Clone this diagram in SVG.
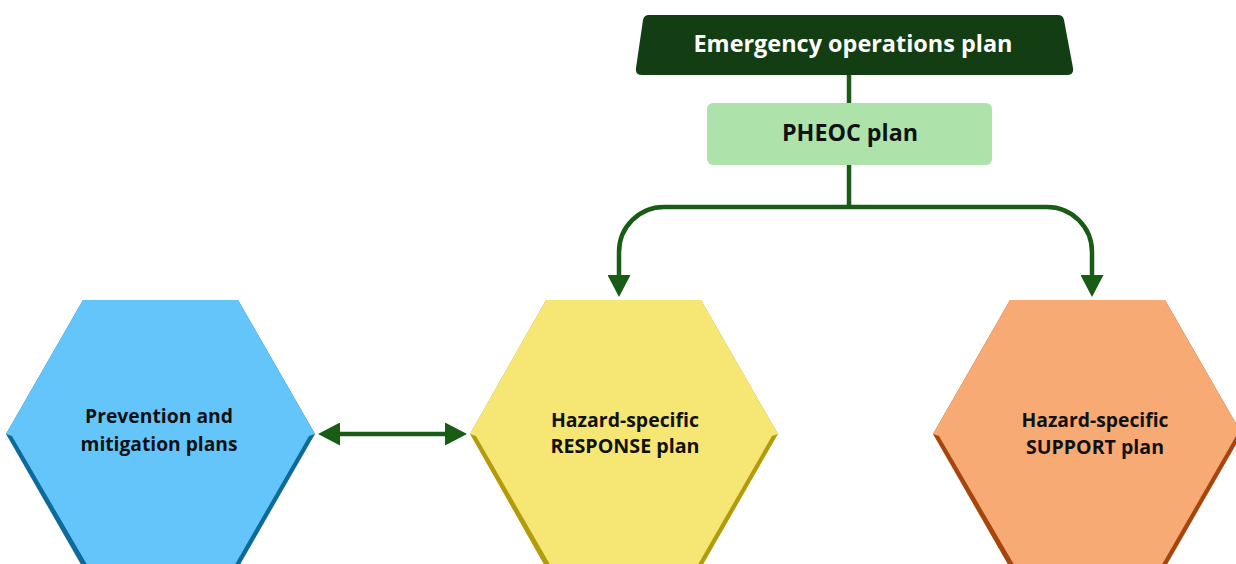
<svg xmlns="http://www.w3.org/2000/svg" width="1236" height="564" viewBox="0 0 1236 564">
  <style>
    .label { font-family: "Open Sans", "Liberation Sans", sans-serif; font-weight: 700; text-anchor: middle; }
    .hex-text { font-size: 20px; fill: #111111; }
    .wire { fill: none; stroke: #185c16; stroke-width: 4.5; }
  </style>
  <defs>
    <marker id="head" viewBox="0 0 22 23" refX="0" refY="11.5" markerWidth="22" markerHeight="23" markerUnits="userSpaceOnUse" orient="auto-start-reverse">
      <path d="M0,0 L22,11.5 L0,23 Z" fill="#185c16"/>
    </marker>
  </defs>

  <rect width="1236" height="564" fill="#ffffff"/>

  <!-- connectors -->
  <g id="connectors">
    <line class="wire" x1="849" y1="74" x2="849" y2="104"/>
    <line class="wire" x1="849" y1="164" x2="849" y2="207"/>
    <path class="wire" d="M849,207 H664 A45,45 0 0 0 619,252 V275" marker-end="url(#head)"/>
    <path class="wire" d="M849,207 H1047 A45,45 0 0 1 1092,252 V275" marker-end="url(#head)"/>
    <line class="wire" x1="340" y1="434" x2="445" y2="434" marker-start="url(#head)" marker-end="url(#head)"/>
  </g>

  <!-- top: emergency operations plan -->
  <g id="eop">
    <path d="M649,15 H1058 Q1063,15 1064,20 L1073,68 Q1074,75 1067,75 H642 Q635,75 636,68 L643,20 Q644,15 649,15 Z" fill="#133d13"/>
    <text class="label" x="853" y="52" font-size="24" fill="#ffffff" textLength="319" lengthAdjust="spacingAndGlyphs">Emergency operations plan</text>
  </g>

  <!-- PHEOC plan -->
  <g id="pheoc">
    <rect x="707" y="103" width="285" height="62" rx="6" fill="#ade3aa"/>
    <text class="label" x="850" y="141" font-size="24" fill="#111111" textLength="136" lengthAdjust="spacingAndGlyphs">PHEOC plan</text>
  </g>

  <!-- prevention and mitigation -->
  <g id="prevention">
    <polygon points="83,300 238,300 315,434 238,568 83,568 6,434" fill="#0e6a99"/>
    <polygon points="83,300 238,300 315,434 309,436 233,568 89,568 12,436 6,434" fill="#64c5fb"/>
    <text class="label hex-text" x="159" y="423" textLength="148" lengthAdjust="spacingAndGlyphs">Prevention and</text>
    <text class="label hex-text" x="159" y="451" textLength="157" lengthAdjust="spacingAndGlyphs">mitigation plans</text>
  </g>

  <!-- hazard-specific response -->
  <g id="response">
    <polygon points="546,300 701,300 778,434 701,568 546,568 470,434" fill="#b39c0c"/>
    <polygon points="546,300 701,300 778,434 772,436 696,568 552,568 476,436 470,434" fill="#f6e674"/>
    <text class="label hex-text" x="625" y="427" textLength="148" lengthAdjust="spacingAndGlyphs">Hazard-specific</text>
    <text class="label hex-text" x="625" y="453" textLength="149" lengthAdjust="spacingAndGlyphs">RESPONSE plan</text>
  </g>

  <!-- hazard-specific support -->
  <g id="support">
    <polygon points="1010,300 1165,300 1242,434 1165,568 1010,568 933,434" fill="#a6460e"/>
    <polygon points="1010,300 1165,300 1242,434 1236,436 1160,568 1016,568 939,436 933,434" fill="#f7aa74"/>
    <text class="label hex-text" x="1095" y="427" textLength="147" lengthAdjust="spacingAndGlyphs">Hazard-specific</text>
    <text class="label hex-text" x="1095" y="454" textLength="138" lengthAdjust="spacingAndGlyphs">SUPPORT plan</text>
  </g>
</svg>
